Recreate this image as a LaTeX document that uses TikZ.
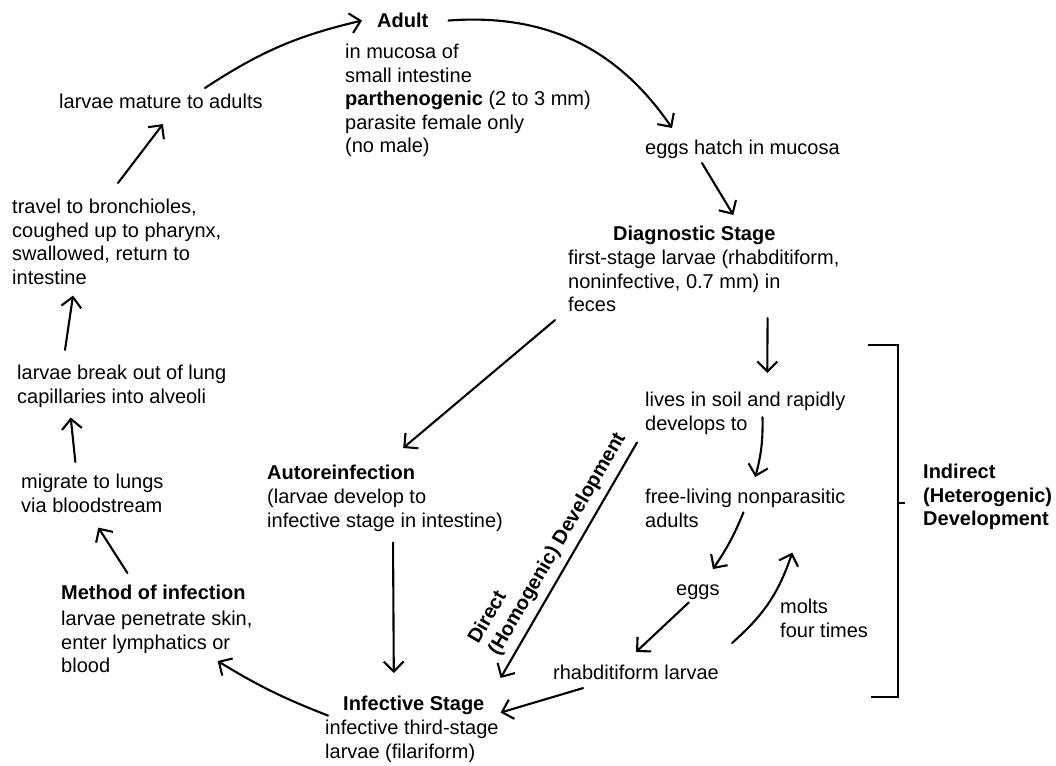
\documentclass[tikz,border=0pt]{standalone}
\usepackage{fontspec}
\setmainfont{Liberation Sans}
\usetikzlibrary{arrows.meta}

\begin{document}
\begin{tikzpicture}[x=1pt, y=-1pt,
  txt/.style={inner sep=0pt, anchor=north west, align=left,
    font=\fontsize{20}{23.5}\selectfont},
  hd/.style={txt, font=\fontsize{20}{23.5}\selectfont\bfseries},
  arr/.style={line width=2.1pt, line cap=round,
    -{Straight Barb[length=10pt,width=20pt]}}]
  \useasboundingbox (0,0) rectangle (1056,765);

  \node[hd] (adult) at (377,13) {Adult};
  \node[txt] (adultinfo) at (345,44) {in mucosa of\\small intestine\\\textbf{parthenogenic} (2 to 3 mm)\\parasite female only\\(no male)};
  \node[txt] (hatch) at (645,140) {eggs hatch in mucosa};
  \node[hd] (diag) at (613,226) {Diagnostic Stage};
  \node[txt] (diaginfo) at (568,250) {first-stage larvae (rhabditiform,\\noninfective, 0.7 mm) in\\feces};
  \node[txt] (soil) at (645,392) {lives in soil and rapidly\\develops to};
  \node[txt] (free) at (645,489) {free-living nonparasitic\\adults};
  \node[txt, anchor=base west] (eggs) at (676,595) {eggs};
  \node[txt] (molts) at (780,599) {molts\\four times};
  \node[txt] (rhab) at (553,665) {rhabditiform larvae};
  \node[hd] (infect) at (343,696) {Infective Stage};
  \node[txt] (infectinfo) at (325,720) {infective third-stage\\larvae (filariform)};
  \node[hd] (autore) at (267,465) {Autoreinfection};
  \node[txt] (autoinfo) at (267,489) {(larvae develop to\\infective stage in intestine)};
  \node[hd] (method) at (61,585) {Method of infection};
  \node[txt] (methodinfo) at (61,611) {larvae penetrate skin,\\enter lymphatics or\\blood};
  \node[txt] (migrate) at (21,474) {migrate to lungs\\via bloodstream};
  \node[txt] (lung) at (17,365) {larvae break out of lung\\capillaries into alveoli};
  \node[txt] (travel) at (12,199) {travel to bronchioles,\\coughed up to pharynx,\\swallowed, return to\\intestine};
  \node[txt] (mature) at (59,94) {larvae mature to adults};
  \node[hd] (indirect) at (923,464) {Indirect\\(Heterogenic)\\Development};

  \draw[line width=1.8pt] (868,345) -- (898,345) -- (898,697) -- (871,697);
  \draw[line width=1.8pt] (898,503) -- (905,503);

  \draw[arr] ([xshift=44pt,yshift=6pt]mature.north) to[bend left=10] ([xshift=-15pt]adult.west);
  \draw[arr] ([xshift=20pt]adult.east) to[bend left=30] ([xshift=27pt,yshift=12pt]hatch.north west);
  \draw[arr] ([xshift=57pt,yshift=-4pt]hatch.south west) -- ([xshift=39pt,yshift=11pt]diag.north);
  \draw[arr] ([xshift=-13pt,yshift=-8pt]diaginfo.south west) -- ([xshift=-12pt,yshift=17pt]autore.north east);
  \draw[arr] ([xshift=-72pt,yshift=-6pt]diaginfo.south east) -- ([xshift=22pt,yshift=19pt]soil.north);
  \draw[arr] ([xshift=-83pt,yshift=-4pt]soil.east) to[bend left=8] ([xshift=10pt,yshift=12pt]free.north);
  \draw[arr] ([xshift=-102pt,yshift=-4pt]free.east) to[bend left=6] ([xshift=15pt,yshift=15pt]eggs.north);
  \draw[arr] ([xshift=-9pt,yshift=-3pt]eggs.south) -- ([yshift=13pt]rhab.north);
  \draw[arr] ([xshift=13pt,yshift=22pt]rhab.north east) to[bend right=15] ([xshift=47pt,yshift=-25pt]free.south);
  \draw[arr] ([xshift=30pt,yshift=-8pt]rhab.south west) -- ([xshift=16pt,yshift=-7pt]infect.east);
  \draw[arr] ([xshift=-8pt,yshift=-8pt]soil.south west) -- node[hd, sloped, above=7pt, pos=0.47] {Direct\\(Homogenic) Development} ([xshift=16pt,yshift=18pt]infect.north east);
  \draw[arr] ([xshift=8pt,yshift=-11pt]autoinfo.south) -- ([xshift=-20pt,yshift=23pt]infect.north);
  \draw[arr] ([xshift=-15pt,yshift=-10pt]infect.west) to[bend left=5] ([xshift=-35pt,yshift=-19pt]methodinfo.east);
  \draw[arr] ([xshift=-26pt,yshift=12pt]method.north) -- ([xshift=6pt,yshift=-15pt]migrate.south);
  \draw[arr] ([xshift=-17pt,yshift=12pt]migrate.north) -- ([xshift=-51pt,yshift=-10pt]lung.south);
  \draw[arr] ([xshift=48pt,yshift=15pt]lung.north west) -- ([xshift=61pt,yshift=-11pt]travel.south west);
  \draw[arr] ([xshift=106pt,yshift=16pt]travel.north west) -- ([xshift=2pt,yshift=-15pt]mature.south);
\end{tikzpicture}
\end{document}
